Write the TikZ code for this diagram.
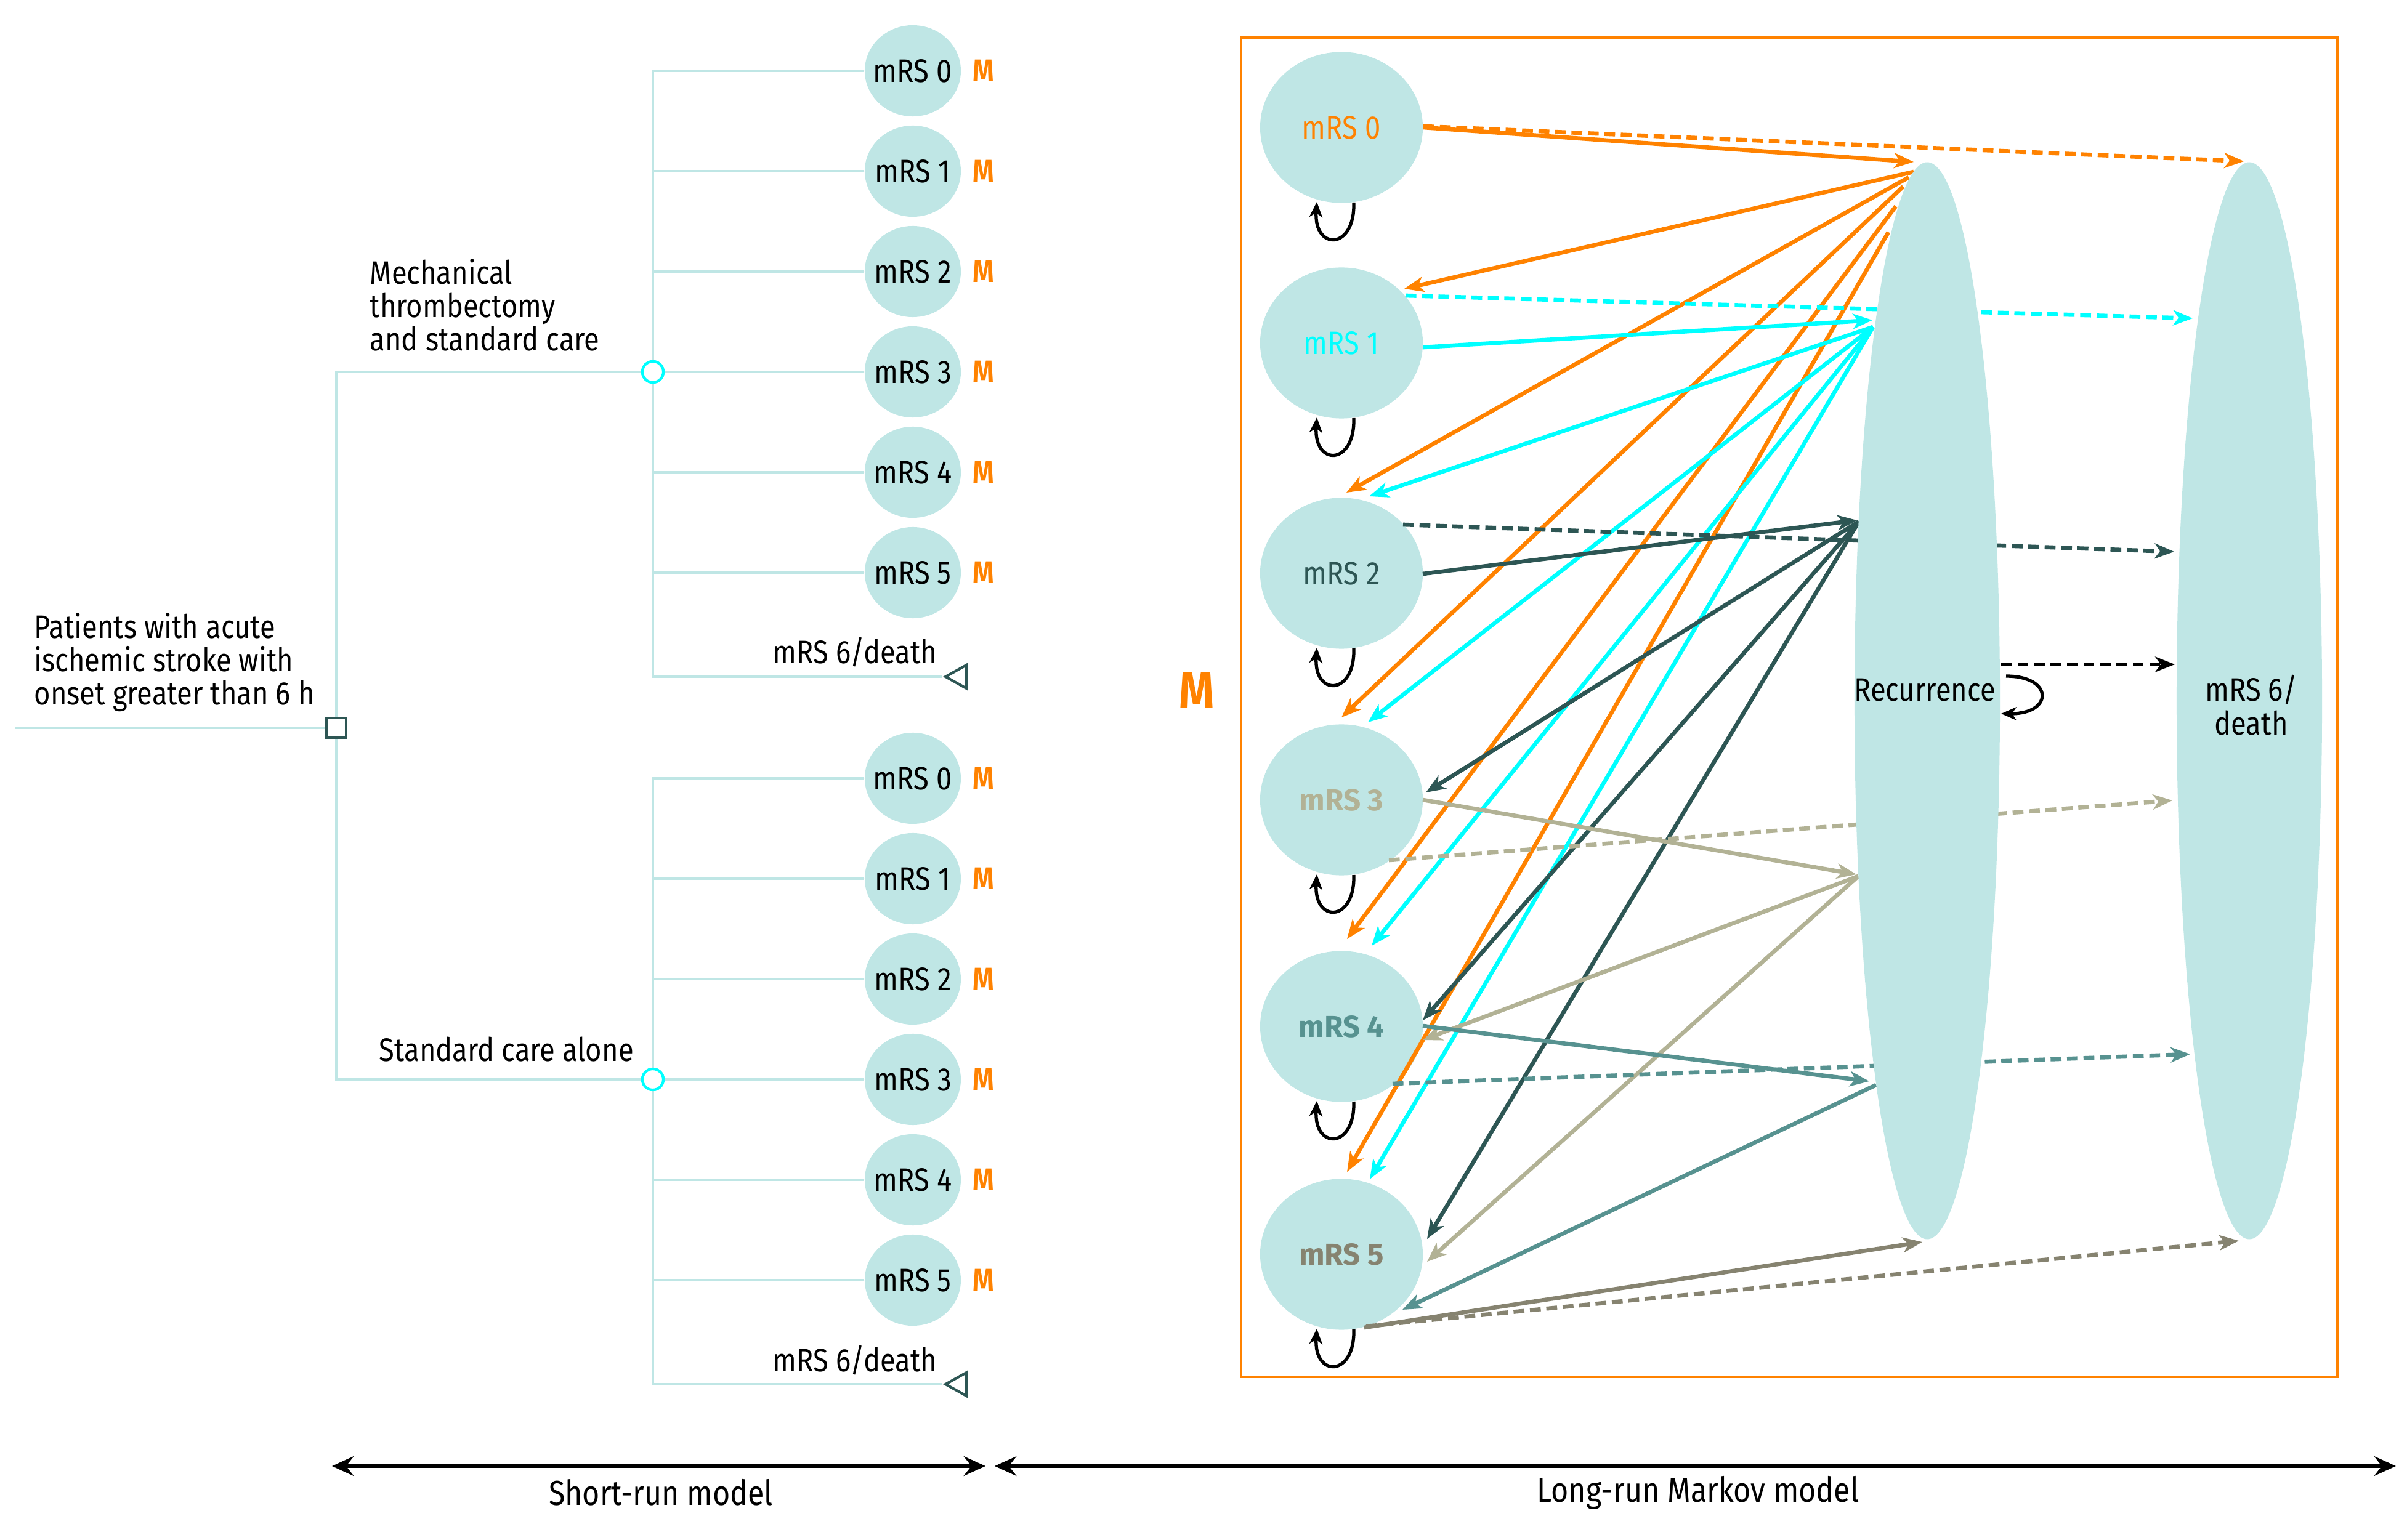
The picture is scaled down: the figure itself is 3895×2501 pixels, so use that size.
\documentclass[tikz,border=0pt]{standalone}
\usepackage{fontspec}
\setmainfont{Fira Sans}[FakeStretch=0.86]
\newfontfamily\widefont{Fira Sans}
\usetikzlibrary{arrows.meta,calc,shapes.geometric}
\definecolor{lt}{HTML}{BFE6E5}
\definecolor{org}{HTML}{FF8200}
\definecolor{cy}{HTML}{00FFFF}
\definecolor{dk}{HTML}{2D5654}
\definecolor{kh}{HTML}{B2B295}
\definecolor{tl}{HTML}{579290}
\definecolor{ol}{HTML}{868370}
\pgfdeclarelayer{bg}
\pgfdeclarelayer{arr}
\pgfsetlayers{bg,arr,main}
\begin{document}
\begin{tikzpicture}[x=0.01cm,y=-0.01cm,
  font=\fontsize{15pt}{15.4pt}\selectfont,
  treeline/.style={lt, line width=1.4pt},
  tcirc/.style={ellipse, fill=lt, minimum width=1.56cm, minimum height=1.48cm, inner sep=0pt},
  mlab/.style={org, font=\fontsize{14.5pt}{15pt}\selectfont\bfseries, inner sep=0pt},
  chance/.style={circle, draw=cy, line width=1.2pt, fill=white, minimum size=0.34cm, inner sep=0pt},
  term/.style={isosceles triangle, shape border rotate=180, isosceles triangle stretches, draw=dk, line width=1.2pt, fill=white, minimum height=0.34cm, minimum width=0.38cm, inner sep=0pt},
  kstate/.style={ellipse, fill=lt, minimum width=2.64cm, minimum height=2.45cm, inner sep=0pt},
  bigstate/.style={ellipse, fill=lt, minimum width=2.36cm, minimum height=17.48cm, inner sep=0pt},
  tr/.style={line width=1.9pt, -{Stealth[length=9pt,width=7pt,inset=2.5pt]}},
  dsh/.style={tr, dash pattern=on 5pt off 2.6pt},
  selfloop/.style={black, line width=1.5pt, -{Stealth[length=7pt,width=6pt,inset=2pt]}},
  span/.style={black, line width=1.7pt, {Stealth[length=10pt,width=9pt,inset=3.5pt]}-{Stealth[length=10pt,width=9pt,inset=3.5pt]}}
]
\useasboundingbox (0,0) rectangle (3895,2501);

% ---------------- decision tree ----------------
\coordinate (start) at (25,1182);
\node[draw=dk, line width=1.3pt, fill=white, minimum size=0.32cm, inner sep=0pt] (root) at (546,1182) {};
\node[chance] (c1) at (1060,604) {};
\node[chance] (c2) at (1060,1753) {};
\foreach \i in {0,...,5}{
  \node[tcirc, label={[inner sep=0pt]center:{mRS \i}}] (a\i) at (1482,{115+163*\i}) {};
  \node[mlab] (ma\i) at (1597,{115+163*\i}) {M};
  \node[tcirc, label={[inner sep=0pt]center:{mRS \i}}] (b\i) at (1482,{1264+163*\i}) {};
  \node[mlab] (mb\i) at (1597,{1264+163*\i}) {M};
}
\node[term] (d1) at (1558,1099) {};
\node[term] (d2) at (1558,2248) {};
\draw[treeline] (start) -- (root);
\draw[treeline] (c1) -| (root);
\draw[treeline] (c2) -| (root);
\foreach \i in {0,...,5}{
  \draw[treeline] (c1) |- (a\i);
  \draw[treeline] (c2) |- (b\i);
}
\draw[treeline] (c1) |- (d1);
\draw[treeline] (c2) |- (d2);
\node[chance] at (c1) {};
\node[chance] at (c2) {};
\node[anchor=base east, inner sep=0pt] (t1) at (1522,1078) {mRS 6/death};
\node[anchor=base east, inner sep=0pt] (t2) at (1522,2227) {mRS 6/death};
\node[anchor=base west, align=left, inner sep=0pt] (lab1) at (600,570) {Mechanical\\thrombectomy\\and standard care};
\node[anchor=base west, inner sep=0pt] (lab2) at (615,1723) {Standard care alone};
\node[anchor=base west, align=left, inner sep=0pt] (lab0) at (55,1145) {Patients with acute\\ischemic stroke with\\onset greater than 6 h};

% ---------------- Markov model ----------------
\begin{pgfonlayer}{bg}
\draw[org, line width=1.4pt] (2015,61) rectangle (3795,2236);
\node[kstate, text=org] (k0) at (2178,207) {mRS 0};
\node[kstate, text=cy] (k1) at (2178,557) {mRS 1};
\node[kstate, text=dk] (k2) at (2178,931) {mRS 2};
\node[kstate, text=kh, font=\widefont\fontsize{14pt}{15pt}\selectfont\bfseries] (k3) at (2178,1299) {mRS 3};
\node[kstate, text=tl, font=\widefont\fontsize{14pt}{15pt}\selectfont\bfseries] (k4) at (2178,1667) {mRS 4};
\node[kstate, text=ol, font=\widefont\fontsize{14pt}{15pt}\selectfont\bfseries] (k5) at (2178,2037) {mRS 5};
\end{pgfonlayer}
\node[org, font=\fontsize{24pt}{26pt}\selectfont\bfseries] (bigM) at (1943,1121) {M};
\node[bigstate] (rec) at (3129,1138) {};
\node[bigstate] (dth) at (3652,1138) {};
\node (rect) at (3125,1121) {Recurrence};
\node[align=center] (dtht) at (3655,1145) {mRS 6/\\death};

\begin{pgfonlayer}{arr}
% orange (mRS 0)
\draw[tr, org] ($(k0)+(133,0)$) -- ($(rec)+(-22,-875)$);
\draw[dsh, org] ($(k0)+(133,-2)$) -- ($(dth)+(-9,-876)$);
\draw[tr, org] ($(rec)+(-22,-859)$) -- ($(k1)+(102,-88)$);
\draw[tr, org] ($(rec)+(-30,-850)$) -- ($(k2)+(8,-131)$);
\draw[tr, org] ($(rec)+(-39,-835)$) -- ($(k3)+(0,-134)$);
\draw[tr, org] ($(rec)+(-51,-803)$) -- ($(k4)+(9,-142)$);
\draw[tr, org] ($(rec)+(-63,-761)$) -- ($(k5)+(9,-134)$);
% cyan (mRS 1)
\draw[tr, cy] ($(k1)+(133,7)$) -- ($(rec)+(-89,-618)$);
\draw[dsh, cy] ($(k1)+(104,-77)$) -- ($(dth)+(-92,-621)$);
\draw[tr, cy] ($(rec)+(-88,-607)$) -- ($(k2)+(45,-125)$);
\draw[tr, cy] ($(rec)+(-88,-607)$) -- ($(k3)+(43,-126)$);
\draw[tr, cy] ($(rec)+(-88,-607)$) -- ($(k4)+(49,-131)$);
\draw[tr, cy] ($(rec)+(-88,-607)$) -- ($(k5)+(46,-122)$);
% dark teal (mRS 2)
\draw[tr, dk] ($(k2)+(132,1)$) -- ($(rec)+(-114,-293)$);
\draw[dsh, dk] ($(k2)+(100,-79)$) -- ($(dth)+(-122,-242)$);
\draw[tr, dk] ($(rec)+(-111,-291)$) -- ($(k3)+(137,-12)$);
\draw[tr, dk] ($(rec)+(-111,-291)$) -- ($(k4)+(132,-10)$);
\draw[tr, dk] ($(rec)+(-111,-291)$) -- ($(k5)+(139,-25)$);
% khaki (mRS 3)
\draw[tr, kh] ($(k3)+(132,0)$) -- ($(rec)+(-115,282)$);
\draw[dsh, kh] ($(k3)+(77,98)$) -- ($(dth)+(-125,162)$);
\draw[tr, kh] ($(rec)+(-112,285)$) -- ($(k4)+(132,22)$);
\draw[tr, kh] ($(rec)+(-112,285)$) -- ($(k5)+(139,12)$);
% teal (mRS 4)
\draw[tr, tl] ($(k4)+(132,-1)$) -- ($(rec)+(-94,618)$);
\draw[dsh, tl] ($(k4)+(83,93)$) -- ($(dth)+(-96,574)$);
\draw[tr, tl] ($(rec)+(-83,624)$) -- ($(k5)+(99,90)$);
% olive (mRS 5)
\draw[tr, ol] ($(k5)+(37,119)$) -- ($(rec)+(-8,879)$);
\draw[dsh, ol] ($(k5)+(40,117)$) -- ($(dth)+(-17,877)$);
\end{pgfonlayer}
% recurrence to death
\draw[dsh, black] ($(rec)+(120,-59)$) -- ($(dth)+(-121,-59)$);
% self loops
\foreach \k in {k0,k1,k2,k3,k4,k5}{
  \draw[selfloop] ($(\k)+(20,122)$) .. controls ($(\k)+(22,200)$) and ($(\k)+(-45,200)$) .. ($(\k)+(-40,121)$);
}
\draw[selfloop] ($(rec)+(128,-40)$) .. controls ($(rec)+(205,-40)$) and ($(rec)+(205,21)$) .. ($(rec)+(120,21)$);

% ---------------- bottom spans ----------------
\coordinate (s1) at (539,2381);
\coordinate (s2) at (1600,2381);
\coordinate (s3) at (1615,2381);
\coordinate (s4) at (3890,2381);
\draw[span] (s1) -- (s2);
\draw[span] (s3) -- (s4);
\node[font=\fontsize{16pt}{17pt}\selectfont] (shortlab) at (1073,2424) {Short-run model};
\node[font=\fontsize{16pt}{17pt}\selectfont] (longlab) at (2757,2424) {Long-run Markov model};
\end{tikzpicture}
\end{document}
